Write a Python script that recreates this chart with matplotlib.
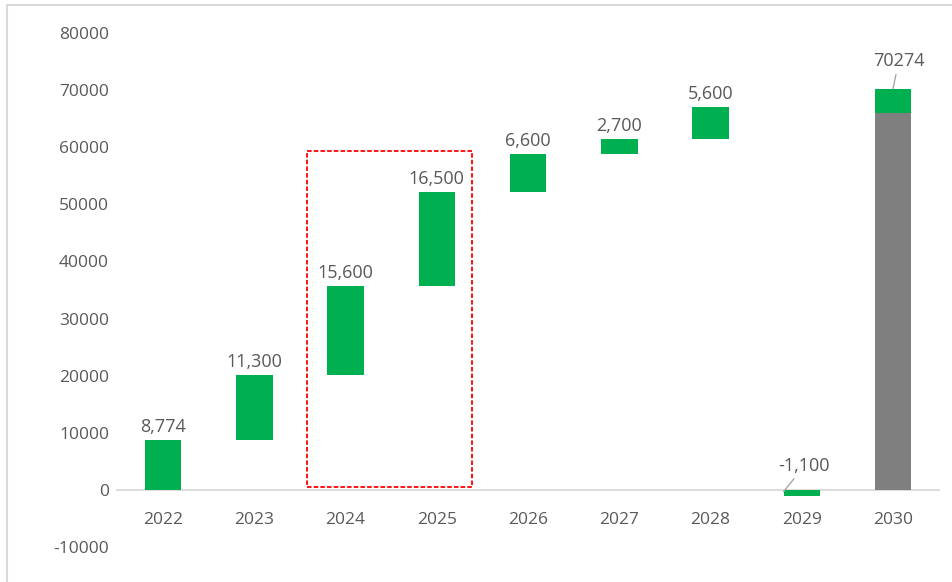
import matplotlib.pyplot as plt
import numpy as np
from matplotlib.patches import Rectangle

years = ['2022', '2023', '2024', '2025', '2026', '2027', '2028', '2029', '2030']
changes = [8774, 11300, 15600, 16500, 6600, 2700, 5600, -1100]
total_2030 = 70274
change_labels = ['8,774', '11,300', '15,600', '16,500', '6,600', '2,700', '5,600', '-1,100']

green = '#00B050'
grey = '#7F7F7F'
text_col = '#595959'

plt.rcParams['font.family'] = ['Open Sans', 'DejaVu Sans']
plt.rcParams['axes.unicode_minus'] = False

fig = plt.figure(figsize=(9.52, 5.82), dpi=100)
ax = fig.add_axes([0.1233, 0.0601, 0.8627, 0.8832])

x = np.arange(len(years))
cum = np.cumsum(changes)
bottoms = []
for c, s in zip(changes, cum):
    # the original chart draws the negative step from zero
    bottoms.append(0 if c < 0 else s - c)
heights = [abs(c) if c >= 0 else c for c in changes]

ax.bar(x[:-1], heights, bottom=bottoms, width=0.4, color=green, zorder=3)
ax.bar(x[-1], cum[-1], width=0.4, color=grey, zorder=3)
ax.bar(x[-1], total_2030 - cum[-1], bottom=cum[-1], width=0.4, color=green, zorder=3)

for i in range(len(changes) - 1):
    top = bottoms[i] + heights[i]
    ax.annotate(change_labels[i], (x[i], top), xytext=(0, 3), textcoords='offset points',
                ha='center', va='bottom', fontsize=13, color=text_col)

# labels with leader lines
ax.annotate(change_labels[-1], (x[7] - 0.2, -300), xytext=(15, 12), textcoords='offset points',
            ha='center', va='bottom', fontsize=13, color=text_col,
            arrowprops=dict(arrowstyle='-', color='#A6A6A6', lw=1, shrinkA=1, shrinkB=0))
ax.annotate(str(total_2030), (x[8], total_2030), xytext=(4, 13), textcoords='offset points',
            ha='center', va='bottom', fontsize=13, color=text_col,
            arrowprops=dict(arrowstyle='-', color='#A6A6A6', lw=1, shrinkA=1, shrinkB=0))

ax.add_patch(Rectangle((1.578, 525), 3.386 - 1.578, 59370 - 525, fill=False,
                       edgecolor='red', linestyle=(0, (2.5, 1.2)), lw=1.3, zorder=4))

ax.set_xlim(-0.5, len(years) - 0.5)
ax.set_ylim(-10000, 80000)
ax.set_yticks(np.arange(-10000, 80001, 10000))
ax.set_xticks(x)
ax.set_xticklabels(years)
for s in ['top', 'right', 'left']:
    ax.spines[s].set_visible(False)
ax.spines['bottom'].set_position(('data', 0))
ax.spines['bottom'].set_color('#D9D9D9')
ax.spines['bottom'].set_linewidth(1.3)
ax.tick_params(axis='x', length=0, pad=16, labelsize=12.5, labelcolor=text_col)
ax.tick_params(axis='y', length=0, pad=6, labelsize=12.5, labelcolor=text_col)

# chart border (top and left edges visible)
fig.add_artist(plt.Line2D([7 / 952, 7 / 952], [0, 1 - 5 / 582], transform=fig.transFigure,
                          color='#D9D9D9', lw=1.5))
fig.add_artist(plt.Line2D([7 / 952, 1], [1 - 5 / 582, 1 - 5 / 582], transform=fig.transFigure,
                          color='#D9D9D9', lw=1.5))

fig.savefig('out.png', dpi=100)
